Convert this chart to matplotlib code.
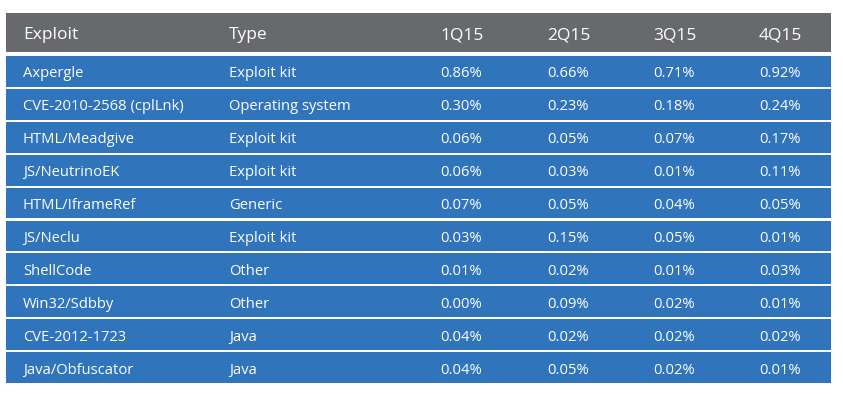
import matplotlib
matplotlib.use('Agg')
import matplotlib.pyplot as plt

# Table data
columns = ['Exploit', 'Type', '1Q15', '2Q15', '3Q15', '4Q15']
exploits = ['Axpergle', 'CVE-2010-2568 (cplLnk)', 'HTML/Meadgive', 'JS/NeutrinoEK',
            'HTML/IframeRef', 'JS/Neclu', 'ShellCode', 'Win32/Sdbby',
            'CVE-2012-1723', 'Java/Obfuscator']
types = ['Exploit kit', 'Operating system', 'Exploit kit', 'Exploit kit', 'Generic',
         'Exploit kit', 'Other', 'Other', 'Java', 'Java']
q1 = [0.86, 0.30, 0.06, 0.06, 0.07, 0.03, 0.01, 0.00, 0.04, 0.04]
q2 = [0.66, 0.23, 0.05, 0.03, 0.05, 0.15, 0.02, 0.09, 0.02, 0.05]
q3 = [0.71, 0.18, 0.07, 0.01, 0.04, 0.05, 0.01, 0.02, 0.02, 0.02]
q4 = [0.92, 0.24, 0.17, 0.11, 0.05, 0.01, 0.03, 0.01, 0.02, 0.01]

plt.rcParams['font.family'] = ['Open Sans', 'DejaVu Sans']

fig = plt.figure(figsize=(8.43, 4.04), dpi=100)
ax = fig.add_axes([0, 0, 1, 1])
ax.set_xlim(0, 843)
ax.set_ylim(404, 0)
ax.axis('off')

left, right = 6, 831
col_x = [23, 229, 440, 547, 653, 759]
header_top, header_h = 13, 39
row_top, row_pitch, row_h = 56, 32.9, 30.9

blue = '#3074bb'
grey = '#68696d'

# header band
ax.barh(header_top + header_h / 2, right - left, height=header_h, left=left,
        color=grey, linewidth=0)
for x, c in zip(col_x, columns):
    ax.text(x, header_top + header_h / 2 + 2.5, c, color='white', fontsize=12.5,
            va='center', ha='left')

# rows
for i in range(len(exploits)):
    yc = row_top + i * row_pitch + row_h / 2
    ax.barh(yc, right - left, height=row_h, left=left, color=blue, linewidth=0)
    cells = [exploits[i], types[i]] + ['%.2f%%' % v for v in (q1[i], q2[i], q3[i], q4[i])]
    for x, s in zip(col_x, cells):
        ax.text(x, yc + 2.5, s, color='white', fontsize=10.6, va='center', ha='left')

fig.savefig('out.png', dpi=100)
